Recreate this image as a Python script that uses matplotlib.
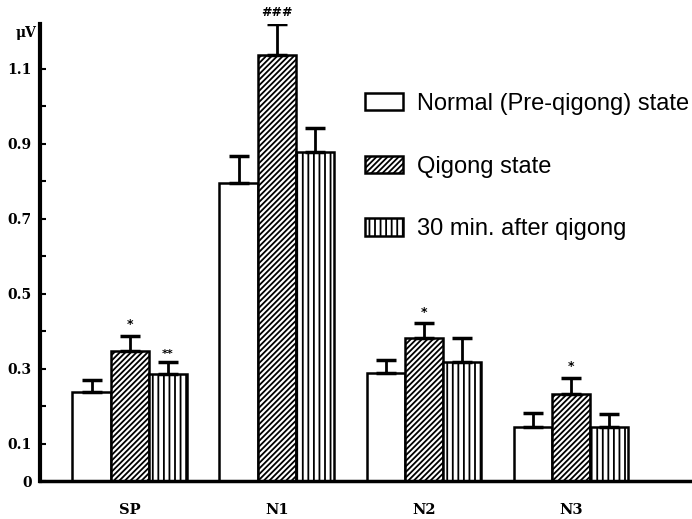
import numpy as np
import matplotlib.pyplot as plt
from matplotlib.patches import Patch

# Evoked potential amplitudes (uV)
groups = ['SP', 'N1', 'N2', 'N3']
normal = [0.237, 0.795, 0.288, 0.144]
normal_err = [0.033, 0.072, 0.035, 0.037]
qigong = [0.347, 1.136, 0.381, 0.232]
qigong_err = [0.040, 0.083, 0.040, 0.043]
after = [0.285, 0.877, 0.317, 0.144]
after_err = [0.032, 0.064, 0.064, 0.035]
qigong_marks = ['*', '###', '*', '*']
after_marks = ['**', '', '', '']

plt.rcParams['hatch.linewidth'] = 1.3

fig = plt.figure(figsize=(6.92, 5.19), dpi=100)
ax = fig.add_axes([0.058, 0.0732, 0.939, 0.8815])

x = np.arange(len(groups))
w = 0.26

bar_kw = dict(width=w, edgecolor='black', linewidth=1.8, zorder=2)
ax.bar(x - w, normal, color='white', **bar_kw)
ax.bar(x, qigong, color='white', hatch='//////', **bar_kw)
ax.bar(x + w, after, color='white', hatch='|||', **bar_kw)

err_kw = dict(fmt='none', ecolor='black', elinewidth=2, capsize=7, capthick=2.5, zorder=3)
ax.errorbar(x - w, normal, yerr=[np.zeros(4), normal_err], **err_kw)
ax.errorbar(x, qigong, yerr=[np.zeros(4), qigong_err], **err_kw)
ax.errorbar(x + w, after, yerr=[np.zeros(4), after_err], **err_kw)

# significance marks
for i in range(len(groups)):
    if qigong_marks[i]:
        ax.text(x[i], qigong[i] + qigong_err[i] + 0.012, qigong_marks[i],
                ha='center', va='bottom', fontsize=9, fontweight='bold')
    if after_marks[i]:
        ax.text(x[i] + w, after[i] + after_err[i] + 0.008, after_marks[i],
                ha='center', va='bottom', fontsize=8, fontweight='bold')

ax.set_xlim(-0.61, 3.81)
ax.set_ylim(0, 1.22)

ax.set_xticks(x)
ax.set_xticklabels(groups, fontfamily='DejaVu Serif', fontweight='bold', fontsize=10.5)
ax.tick_params(axis='x', length=0, pad=16)

major = [0, 0.1, 0.3, 0.5, 0.7, 0.9, 1.1]
ax.set_yticks(major)
ax.set_yticklabels(['0', '0.1', '0.3', '0.5', '0.7', '0.9', '1.1'],
                   fontfamily='DejaVu Serif', fontweight='bold', fontsize=10)
ax.set_yticks([0.2, 0.4, 0.6, 0.8, 1.0], minor=True)
ax.tick_params(axis='y', which='both', direction='in', length=4, width=1.5, pad=6)
ax.text(-0.005, 1.195, 'μV', transform=ax.get_yaxis_transform(), ha='right', va='center',
        fontfamily='DejaVu Serif', fontweight='bold', fontsize=10)

for s in ['top', 'right']:
    ax.spines[s].set_visible(False)
ax.spines['left'].set_linewidth(3)
ax.spines['bottom'].set_linewidth(2.5)

handles = [Patch(facecolor='white', edgecolor='black', linewidth=1.8),
           Patch(facecolor='white', edgecolor='black', linewidth=1.8, hatch='//////'),
           Patch(facecolor='white', edgecolor='black', linewidth=1.8, hatch='|||')]
labels = ['Normal (Pre-qigong) state', 'Qigong state', '30 min. after qigong']
leg = ax.legend(handles, labels, loc='upper left', bbox_to_anchor=(0.5, 0.848),
                frameon=False, fontsize=17, handlelength=1.62, handleheight=0.75,
                handletextpad=0.6, labelspacing=1.72, borderpad=0, borderaxespad=0)
for t in leg.get_texts():
    t.set_fontfamily('Liberation Sans')

fig.savefig('out.png', dpi=100)
